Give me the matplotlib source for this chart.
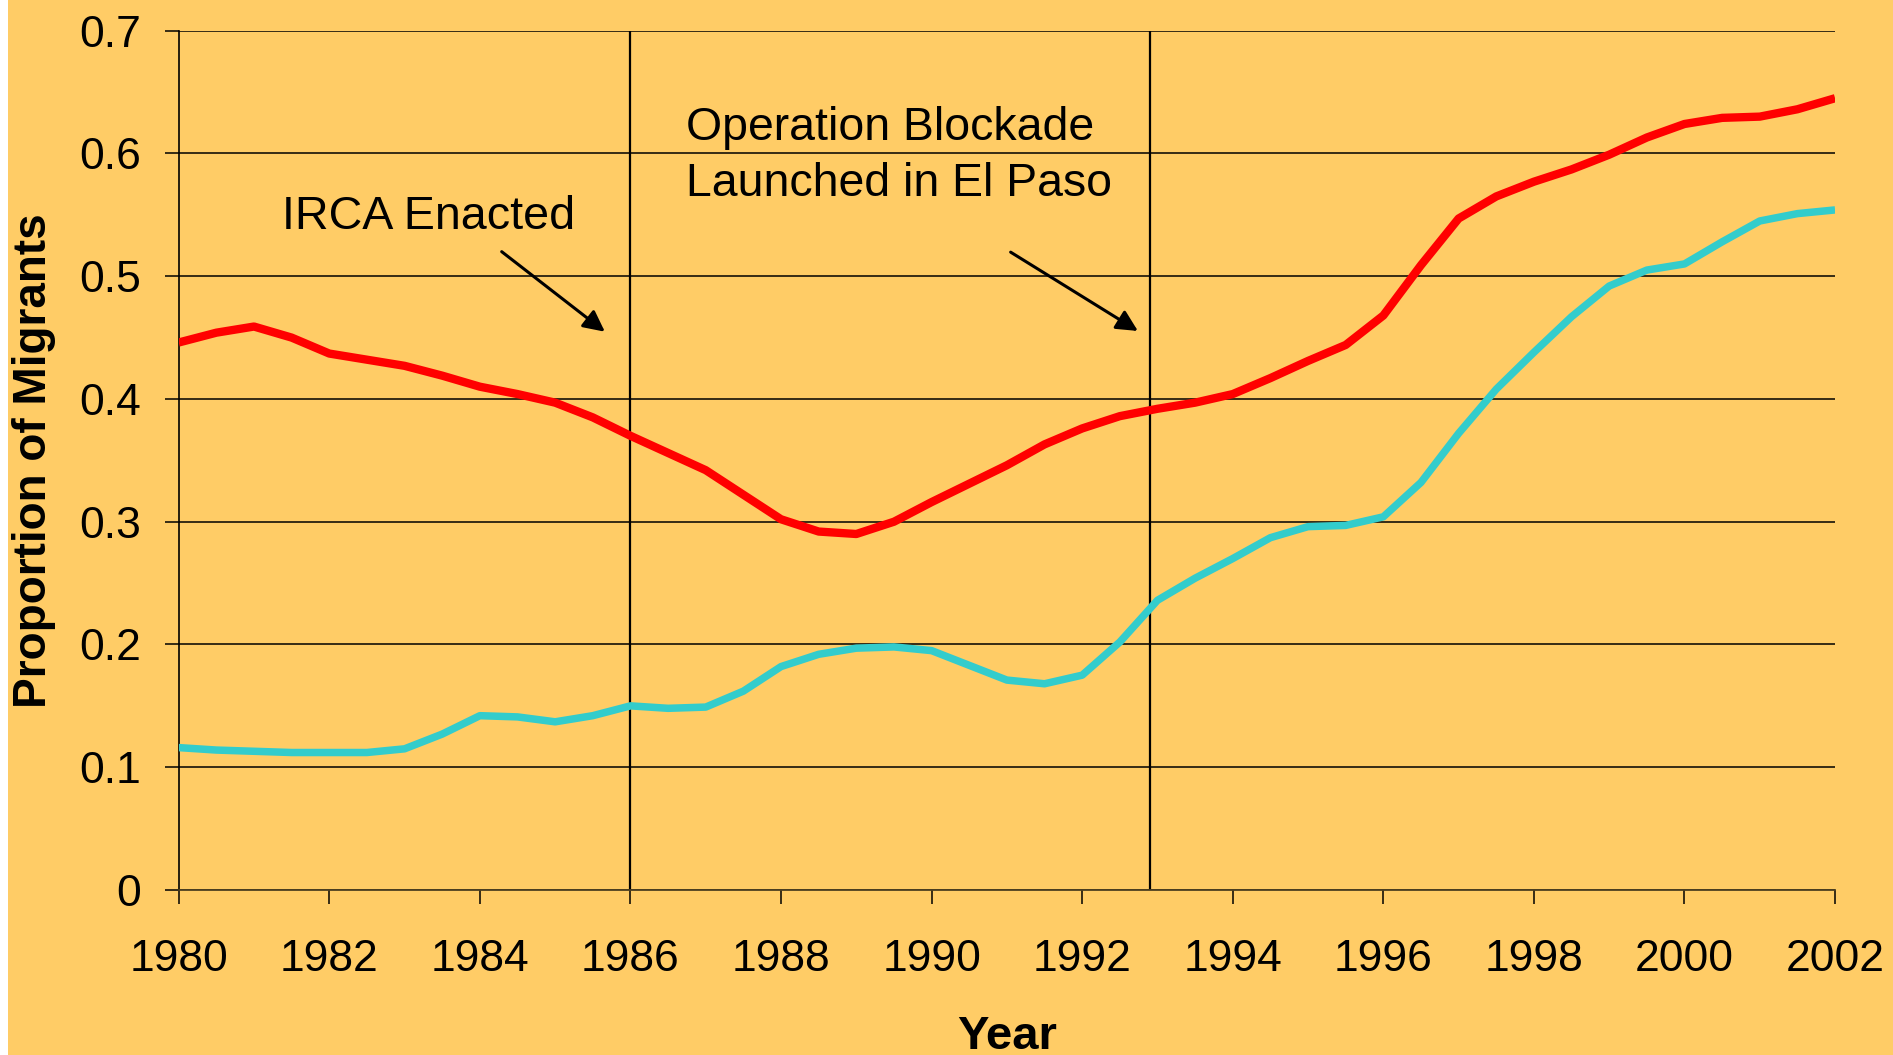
import matplotlib
matplotlib.use("Agg")
import matplotlib.pyplot as plt
from matplotlib.patches import Rectangle

plt.rcParams['font.family'] = ['Liberation Sans', 'DejaVu Sans']

# values, every half year
years = [1980.0, 1980.5, 1981.0, 1981.5, 1982.0, 1982.5, 1983.0, 1983.5, 1984.0, 1984.5,
         1985.0, 1985.5, 1986.0, 1986.5, 1987.0, 1987.5, 1988.0, 1988.5, 1989.0, 1989.5,
         1990.0, 1990.5, 1991.0, 1991.5, 1992.0, 1992.5, 1993.0, 1993.5, 1994.0, 1994.5,
         1995.0, 1995.5, 1996.0, 1996.5, 1997.0, 1997.5, 1998.0, 1998.5, 1999.0, 1999.5,
         2000.0, 2000.5, 2001.0, 2001.5, 2002.0]
red_line = [0.446, 0.454, 0.459, 0.450, 0.437, 0.432, 0.427, 0.419, 0.410, 0.404,
            0.397, 0.385, 0.370, 0.356, 0.342, 0.322, 0.302, 0.292, 0.290, 0.300,
            0.316, 0.331, 0.346, 0.363, 0.376, 0.386, 0.392, 0.397, 0.404, 0.417,
            0.431, 0.444, 0.468, 0.509, 0.547, 0.565, 0.577, 0.587, 0.599, 0.613,
            0.624, 0.629, 0.630, 0.636, 0.645]
teal_line = [0.116, 0.114, 0.113, 0.112, 0.112, 0.112, 0.115, 0.127, 0.142, 0.141,
             0.137, 0.142, 0.150, 0.148, 0.149, 0.162, 0.182, 0.192, 0.197, 0.198,
             0.195, 0.183, 0.171, 0.168, 0.175, 0.202, 0.236, 0.254, 0.270, 0.287,
             0.296, 0.297, 0.304, 0.332, 0.372, 0.408, 0.438, 0.467, 0.492, 0.505,
             0.510, 0.528, 0.545, 0.551, 0.554]

xticks = list(range(1980, 2003, 2))
yticks = [0, 0.1, 0.2, 0.3, 0.4, 0.5, 0.6, 0.7]
ytick_labels = ['0', '0.1', '0.2', '0.3', '0.4', '0.5', '0.6', '0.7']
events = [1986.0, 1992.9]

bg = '#FFCC66'
fs = 32

fig = plt.figure(figsize=(18.93, 10.55), dpi=100)
fig.patch.set_facecolor('white')
fig.patches.append(Rectangle((8 / 1893, 0), 1, 1, transform=fig.transFigure,
                             facecolor=bg, edgecolor='none', zorder=-10))
ax = fig.add_axes([0.0944, 0.1564, 0.8750, 0.8145])
ax.set_facecolor(bg)

ax.yaxis.grid(True, color='black', lw=1.1)
ax.set_axisbelow(True)

for x in events:
    ax.axvline(x, color='black', lw=1.6, zorder=2)

ax.plot(years, red_line, color='#FF0000', lw=6.0, solid_capstyle='butt',
        solid_joinstyle='round', zorder=3)
ax.plot(years, teal_line, color='#33CCCC', lw=5.4, solid_capstyle='butt',
        solid_joinstyle='round', zorder=3)

ax.set_xlim(1980, 2002)
ax.set_ylim(0, 0.7)
ax.set_xticks(xticks)
ax.set_yticks(yticks)
ax.set_yticklabels(ytick_labels)
ax.tick_params(axis='x', direction='out', length=10, width=1.1, pad=25, labelsize=fs)
ax.tick_params(axis='y', direction='out', length=10, width=1.1, pad=17, labelsize=fs)

for side in ['top', 'right']:
    ax.spines[side].set_visible(False)
ax.spines['left'].set_linewidth(1.2)
ax.spines['bottom'].set_linewidth(1.3)
ax.spines['bottom'].set_color('#4d4020')

ax.set_xlabel('Year', fontsize=34, fontweight='bold')
ax.xaxis.set_label_coords(0.5, -0.146)
ax.set_ylabel('Proportion of Migrants', fontsize=33, fontweight='bold')
ax.yaxis.set_label_coords(-0.074, 0.5)

ax.text(1981.37, 0.5385, 'IRCA Enacted', fontsize=33.6, ha='left', va='baseline')
ax.text(1986.74, 0.611, 'Operation Blockade', fontsize=33.4, ha='left', va='baseline')
ax.text(1986.74, 0.5653, 'Launched in El Paso', fontsize=33.4, ha='left', va='baseline')

arrow = dict(arrowstyle='-|>', color='black', lw=2.2, mutation_scale=32, shrinkA=0, shrinkB=0)
ax.annotate('', xy=(1985.66, 0.4548), xytext=(1984.29, 0.520), arrowprops=arrow)
ax.annotate('', xy=(1992.74, 0.4554), xytext=(1991.05, 0.5196), arrowprops=arrow)

fig.savefig('out.png', dpi=100, facecolor=fig.get_facecolor())
